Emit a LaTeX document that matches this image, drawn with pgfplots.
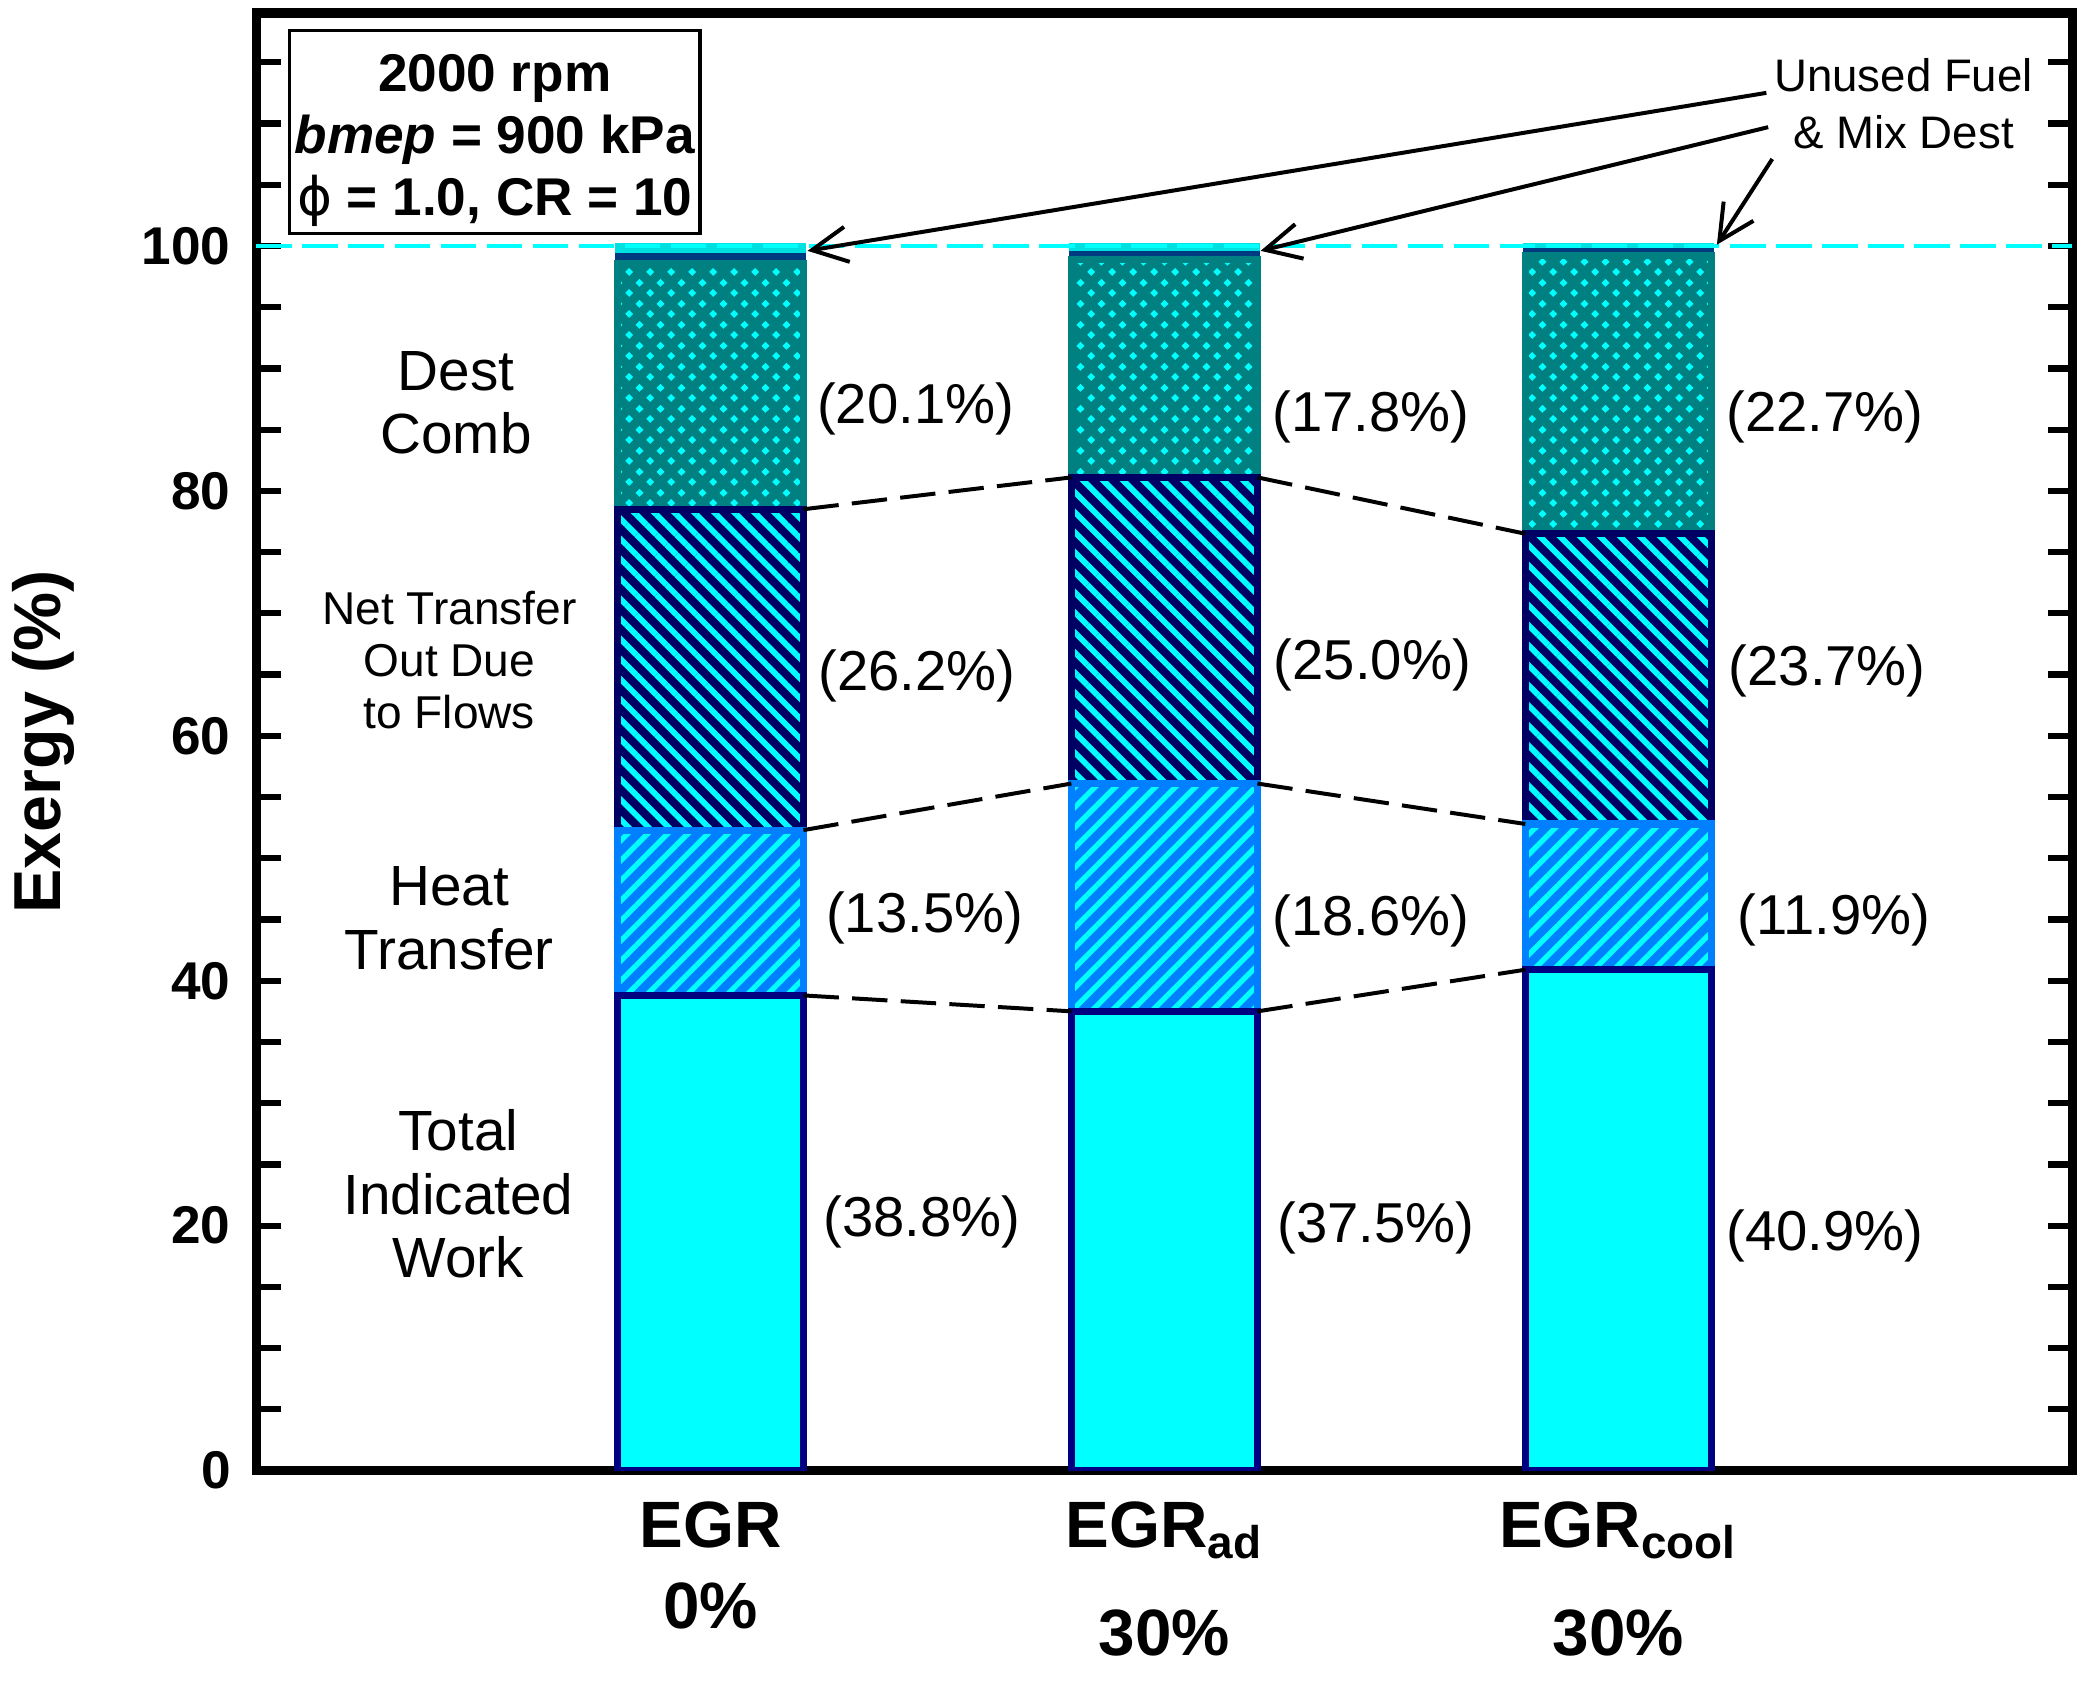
\documentclass[border=0pt]{standalone}
\usepackage{pgfplots}
\pgfplotsset{compat=1.18}
\usepackage{pgfplotstable}
\usepackage{fontspec}
\setmainfont{Liberation Sans}
\newfontfamily\dejavu{DejaVu Sans}
\usetikzlibrary{patterns,patterns.meta,arrows.meta}

\definecolor{workc}{HTML}{00FFFF}
\definecolor{navyb}{HTML}{000080}
\definecolor{heatc}{HTML}{0080FF}
\definecolor{netc}{HTML}{000064}
\definecolor{destc}{HTML}{008080}
\definecolor{mixc}{HTML}{003A80}
\definecolor{unusedc}{HTML}{00E0E0}

\tikzdeclarepattern{
  name=diamonds, type=uncolored,
  bottom left={(0pt,0pt)}, top right={(4.7pt,4.65pt)},
  tile size={(4.7pt,4.65pt)},
  code={
    \fill (1.175pt,0.2625pt) -- (2.075pt,1.1625pt) -- (1.175pt,2.0625pt) -- (0.275pt,1.1625pt) -- cycle;
    \fill (3.525pt,2.5875pt) -- (4.425pt,3.4875pt) -- (3.525pt,4.3875pt) -- (2.625pt,3.4875pt) -- cycle;
  }
}

\pgfplotstableread{
x work heat net dest mix unused
1 38.8 13.5 26.2 20.1 0.60 0.80
2 37.5 18.6 25.0 17.8 0.45 0.65
3 40.9 11.9 23.7 22.7 0.40 0.40
}\exergy

\begin{document}
\begin{tikzpicture}
\begin{axis}[name=main, scale only axis, width=410.1pt, height=329.1pt,
  xmin=0, xmax=4, ymin=0, ymax=119,
  ybar stacked, bar width=0.41,
  axis line style={line width=2.2pt},
  xtick={1,2,3},
  xticklabels={{EGR\\0\%},{EGR\textsubscript{ad}\\[6pt]30\%},{EGR\textsubscript{cool}\\[6pt]30\%}},
  xticklabel style={align=center, font=\bfseries\fontsize{14.8}{18.3}\selectfont, yshift=-3.5pt},
  major x tick style={draw=none},
  ytick={0,20,...,100}, minor ytick={5,10,...,115},
  ytick pos=both,
  tick style={line width=1.4pt, black},
  tick align=inside, major tick length=5.5pt, minor tick length=5.5pt,
  yticklabel style={font=\bfseries\fontsize{12}{12}\selectfont, xshift=-2.3pt},
  /pgf/number format/assume math mode=true,
  ylabel={Exergy (\%)},
  every axis y label/.style={at={(axis description cs:-0.117,0.5)}, rotate=90, anchor=center, font=\bfseries\fontsize{15}{15}\selectfont},
]
\addplot[fill=workc, draw=navyb, line width=1.6pt] table[x=x,y=work]{\exergy};
\addplot[preaction={fill=heatc}, pattern={Lines[angle=45,distance=3.2pt,line width=1.2pt]}, pattern color=workc, draw=heatc, line width=1.6pt] table[x=x,y=heat]{\exergy};
\addplot[preaction={fill=netc}, pattern={Lines[angle=-45,distance=3.2pt,line width=1.3pt]}, pattern color=workc, draw=netc, line width=1.6pt] table[x=x,y=net]{\exergy};
\addplot[preaction={fill=destc}, pattern=diamonds, pattern color=workc, draw=destc, line width=1.6pt] table[x=x,y=dest]{\exergy};
\addplot[fill=mixc, draw=mixc, line width=1.2pt] table[x=x,y=mix]{\exergy};
\addplot[fill=unusedc, draw=unusedc, line width=1.2pt] table[x=x,y=unused]{\exergy};
\end{axis}

\begin{axis}[at={(main.south west)}, anchor=south west, scale only axis,
  width=410.1pt, height=329.1pt, xmin=0, xmax=4, ymin=0, ymax=119,
  hide axis, clip=false]
% 100 % reference line
\addplot[workc, line width=1pt, dash pattern=on 8pt off 2.4pt] coordinates {(0,100) (4,100)};
% connectors
\addplot[black, line width=0.9pt, dash pattern=on 8pt off 3pt] coordinates {(1.205,38.8) (1.795,37.5)};
\addplot[black, line width=0.9pt, dash pattern=on 8pt off 3pt] coordinates {(1.205,52.3) (1.795,56.1)};
\addplot[black, line width=0.9pt, dash pattern=on 8pt off 3pt] coordinates {(1.205,78.5) (1.795,81.1)};
\addplot[black, line width=0.9pt, dash pattern=on 8pt off 3pt] coordinates {(2.205,37.5) (2.795,40.9)};
\addplot[black, line width=0.9pt, dash pattern=on 8pt off 3pt] coordinates {(2.205,56.1) (2.795,52.8)};
\addplot[black, line width=0.9pt, dash pattern=on 8pt off 3pt] coordinates {(2.205,81.1) (2.795,76.5)};
% arrows
\addplot[black, line width=0.9pt, -{Straight Barb[length=8pt,width=8pt]}] coordinates {(3.326,112.5) (1.214,99.6)};
\addplot[black, line width=0.9pt, -{Straight Barb[length=8pt,width=8pt]}] coordinates {(3.330,109.7) (2.212,99.6)};
\addplot[black, line width=0.9pt, -{Straight Barb[length=8pt,width=8pt]}] coordinates {(3.339,107.1) (3.217,100.1)};

\node[font=\fontsize{10.3}{12.9}\selectfont, align=center] at (axis cs:3.628,111.6) {Unused Fuel\\\& Mix Dest};

\node[draw, line width=0.8pt, minimum width=92.7pt, minimum height=45.9pt, inner sep=0pt] at (axis cs:0.525,109.3) {};
\node[align=center, inner sep=0pt, font=\bfseries\fontsize{12}{14}\selectfont] at (axis cs:0.525,108.6)
  {2000 rpm\\\textit{bmep} = 900 kPa\\{\dejavu\mdseries ϕ} = 1.0, CR = 10};

\node[font=\fontsize{12.8}{14.4}\selectfont, align=center] at (axis cs:0.44,87.2) {Dest\\Comb};
\node[font=\fontsize{10.4}{11.7}\selectfont, align=center] at (axis cs:0.425,66.2) {Net Transfer\\Out Due\\to Flows};
\node[font=\fontsize{12.8}{14.4}\selectfont, align=center] at (axis cs:0.425,45.1) {Heat\\Transfer};
\node[font=\fontsize{12.8}{14.4}\selectfont, align=center] at (axis cs:0.445,22.6) {Total\\Indicated\\Work};

\node[font=\fontsize{12.7}{14}\selectfont] at (axis cs:1.452,86.7) {(20.1\%)};
\node[font=\fontsize{12.7}{14}\selectfont] at (axis cs:1.455,64.9) {(26.2\%)};
\node[font=\fontsize{12.7}{14}\selectfont] at (axis cs:1.472,45.1) {(13.5\%)};
\node[font=\fontsize{12.7}{14}\selectfont] at (axis cs:1.466,20.3) {(38.8\%)};
\node[font=\fontsize{12.7}{14}\selectfont] at (axis cs:2.455,86.0) {(17.8\%)};
\node[font=\fontsize{12.7}{14}\selectfont] at (axis cs:2.458,65.8) {(25.0\%)};
\node[font=\fontsize{12.7}{14}\selectfont] at (axis cs:2.455,44.9) {(18.6\%)};
\node[font=\fontsize{12.7}{14}\selectfont] at (axis cs:2.466,19.8) {(37.5\%)};
\node[font=\fontsize{12.7}{14}\selectfont] at (axis cs:3.455,86.0) {(22.7\%)};
\node[font=\fontsize{12.7}{14}\selectfont] at (axis cs:3.460,65.3) {(23.7\%)};
\node[font=\fontsize{12.7}{14}\selectfont] at (axis cs:3.475,45.0) {(11.9\%)};
\node[font=\fontsize{12.7}{14}\selectfont] at (axis cs:3.455,19.2) {(40.9\%)};
\end{axis}
\pgfresetboundingbox
\path[use as bounding box] ([shift={(-57.9pt,-47.7pt)}]main.south west) rectangle ([shift={(2.4pt,3pt)}]main.north east);
\end{tikzpicture}
\end{document}
